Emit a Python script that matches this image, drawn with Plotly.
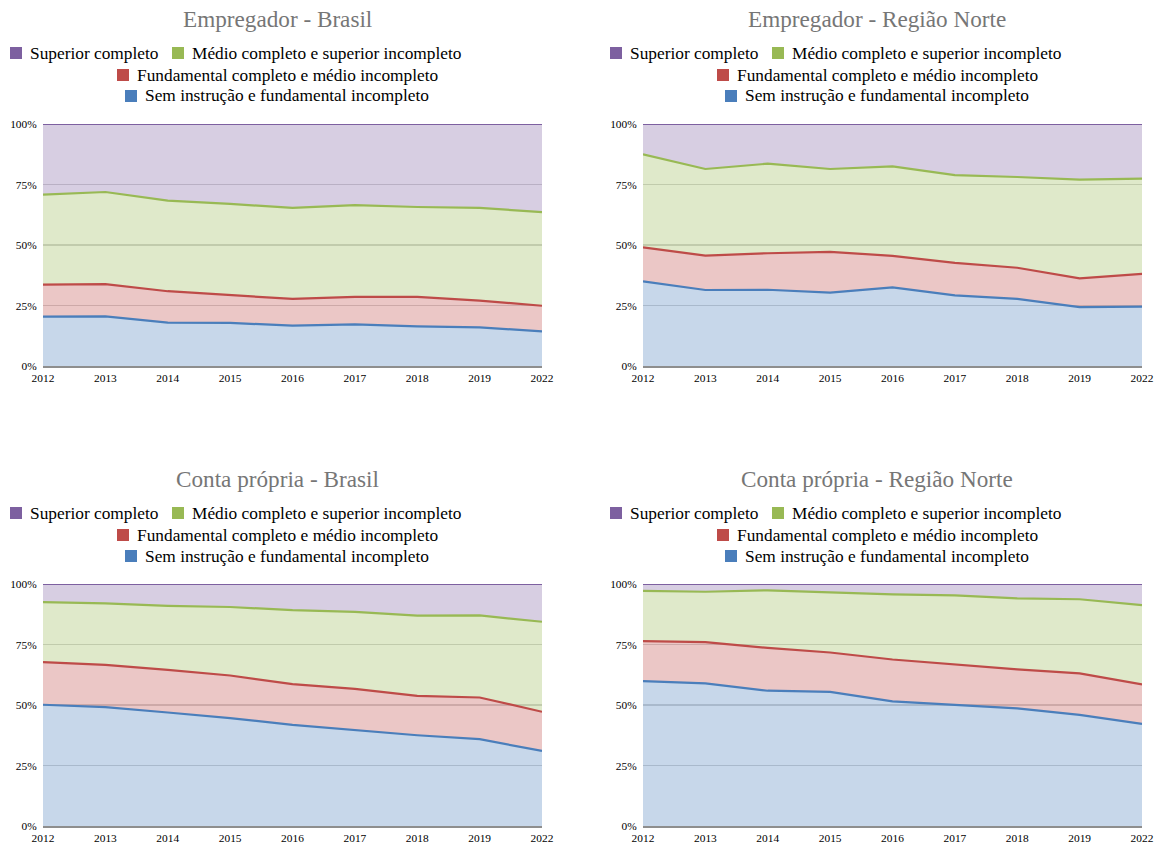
import plotly.graph_objects as go

years = ["2012", "2013", "2014", "2015", "2016", "2017", "2018", "2019", "2022"]

series_names = [
    "Sem instrução e fundamental incompleto",
    "Fundamental completo e médio incompleto",
    "Médio completo e superior incompleto",
    "Superior completo",
]

y_tick_vals = [0, 25, 50, 75, 100]
y_tick_text = ["0%", "25%", "50%", "75%", "100%"]

# Shares (%) per education level, bottom to top of the stack
emp_br_sem = [20.4, 20.5, 17.9, 17.8, 16.7, 17.2, 16.4, 16.0, 14.3]
emp_br_fund = [13.2, 13.3, 13.0, 11.5, 11.0, 11.4, 12.2, 11.0, 10.6]
emp_br_medio = [37.2, 38.1, 37.4, 37.7, 37.6, 37.9, 37.1, 38.3, 38.7]
emp_br_sup = [29.2, 28.1, 31.7, 33.0, 34.7, 33.5, 34.3, 34.7, 36.4]

emp_no_sem = [35.0, 31.4, 31.5, 30.3, 32.5, 29.2, 27.7, 24.3, 24.5]
emp_no_fund = [14.0, 14.2, 15.1, 16.9, 13.0, 13.4, 12.9, 11.9, 13.6]
emp_no_medio = [38.5, 35.8, 37.0, 34.2, 37.0, 36.3, 37.5, 40.8, 39.3]
emp_no_sup = [12.5, 18.6, 16.4, 18.6, 17.5, 21.1, 21.9, 23.0, 22.6]

cp_br_sem = [50.1, 49.1, 46.9, 44.6, 41.8, 39.7, 37.5, 35.9, 31.0]
cp_br_fund = [17.6, 17.5, 17.6, 17.6, 16.8, 17.0, 16.3, 17.2, 16.2]
cp_br_medio = [24.8, 25.4, 26.5, 28.3, 30.6, 31.8, 33.1, 33.9, 37.2]
cp_br_sup = [7.5, 8.0, 9.0, 9.5, 10.8, 11.5, 13.1, 13.0, 15.6]

cp_no_sem = [59.9, 58.9, 55.9, 55.4, 51.5, 50.2, 48.6, 45.9, 42.2]
cp_no_fund = [16.5, 17.1, 17.7, 16.3, 17.3, 16.6, 16.1, 17.2, 16.3]
cp_no_medio = [20.8, 20.8, 23.8, 24.7, 26.9, 28.5, 29.4, 30.6, 32.8]
cp_no_sup = [2.8, 3.2, 2.6, 3.6, 4.3, 4.7, 5.9, 6.3, 8.7]

titles = [
    "Empregador - Brasil",
    "Empregador - Região Norte",
    "Conta própria - Brasil",
    "Conta própria - Região Norte",
]

panels = [
    [emp_br_sem, emp_br_fund, emp_br_medio, emp_br_sup],
    [emp_no_sem, emp_no_fund, emp_no_medio, emp_no_sup],
    [cp_br_sem, cp_br_fund, cp_br_medio, cp_br_sup],
    [cp_no_sem, cp_no_fund, cp_no_medio, cp_no_sup],
]

line_colors = ["#4A7EBB", "#BE4B48", "#98B954", "#7D60A0"]
fill_colors = [
    "rgba(74,126,187,0.31)",
    "rgba(190,75,72,0.31)",
    "rgba(152,185,84,0.31)",
    "rgba(125,96,160,0.31)",
]

W, H = 1157, 843
SERIF = "Liberation Serif, Times New Roman, serif"


def px(x):
    return x / W


def py(y):
    return 1 - y / H


# panel geometry in page pixels: (plot left, plot right, plot top, plot bottom, x offset, y offset)
geom = [
    (43, 542, 124, 366, 0, 0),
    (643, 1142, 124, 366, 600, 0),
    (43, 542, 584, 826, 0, 460),
    (643, 1142, 584, 826, 600, 460),
]

# legend layout (page pixels, relative to top-left panel): (series index, key left, text left, row y)
legend_rows = [
    (3, 10, 28, 53),
    (2, 172, 190, 53),
    (1, 117, 135, 75),
    (0, 125, 143, 96),
]

fig = go.Figure()
annotations = []
shapes = []

for i, (vals, title, g) in enumerate(zip(panels, titles, geom)):
    l, r, t, b, dx, dy = g
    ax = "" if i == 0 else str(i + 1)
    for k in range(4):
        fig.add_trace(go.Scatter(
            x=years, y=vals[k], name=series_names[k],
            mode="lines", stackgroup="s%d" % i,
            line=dict(color=line_colors[k], width=2.2),
            fillcolor=fill_colors[k],
            showlegend=False, hoverinfo="skip",
            xaxis="x" + ax, yaxis="y" + ax,
        ))
    fig.layout["xaxis" + ax] = dict(
        domain=[px(l), px(r)], anchor="y" + ax, type="category",
        range=[0, len(years) - 1], showgrid=False, zeroline=False,
        showline=True, linecolor="#8E8E8E", linewidth=2,
        ticks="", tickfont=dict(family=SERIF, size=11.4, color="#000"),
        ticklabeloverflow="allow",
        fixedrange=True, automargin=False,
    )
    fig.layout["yaxis" + ax] = dict(
        domain=[py(b), py(t)], anchor="x" + ax,
        range=[0, 100], tickmode="array", tickvals=y_tick_vals, ticktext=y_tick_text,
        showgrid=True, gridcolor="#D4D4D4", gridwidth=1.5, zeroline=False,
        showline=False, ticks="outside", ticklen=3, tickcolor="rgba(0,0,0,0)",
        tickfont=dict(family=SERIF, size=11.4, color="#000"),
        fixedrange=True, automargin=False,
    )
    # title
    annotations.append(dict(
        text=title, x=px(277 + dx), y=py(19 + dy),
        xref="paper", yref="paper", xanchor="center", yanchor="middle",
        showarrow=False, font=dict(family=SERIF, size=23.2, color="#767676"),
    ))
    # legend: key squares + labels
    for k, kx, tx, ry in legend_rows:
        shapes.append(dict(
            type="rect", xref="paper", yref="paper",
            x0=px(kx + dx), x1=px(kx + dx + 12),
            y0=py(ry + dy + 6), y1=py(ry + dy - 6),
            fillcolor=line_colors[k], line=dict(width=0),
        ))
        annotations.append(dict(
            text=series_names[k], x=px(tx + dx), y=py(ry + dy),
            xref="paper", yref="paper", xanchor="left", yanchor="middle",
            showarrow=False, font=dict(family=SERIF, size=17.33, color="#000"),
        ))

fig.update_layout(
    width=W, height=H, autosize=False,
    margin=dict(l=0, r=0, t=0, b=0),
    paper_bgcolor="white", plot_bgcolor="white",
    annotations=annotations, shapes=shapes,
    showlegend=False,
)

# place the figure at the page's top-left corner (no default body margin)
fig.write_html(
    "out.html",
    config={"displayModeBar": False, "staticPlot": True},
    post_script="document.body.style.margin='0';document.body.style.overflow='hidden';",
)
